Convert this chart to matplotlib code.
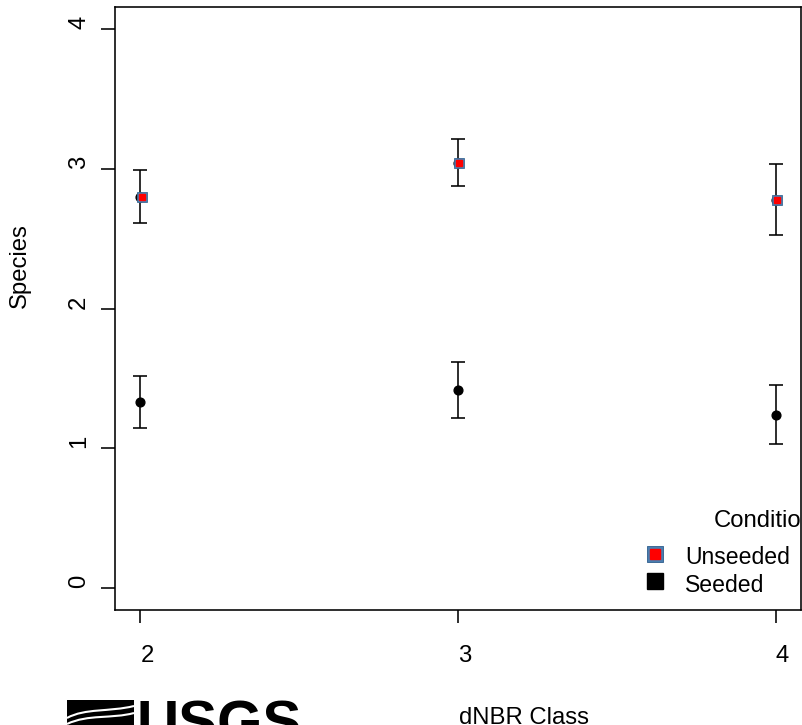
import matplotlib
matplotlib.use("Agg")
import matplotlib.pyplot as plt
from matplotlib.lines import Line2D
from matplotlib.patches import Polygon
from matplotlib.path import Path
from matplotlib.patches import PathPatch
import matplotlib.transforms as mtrans

plt.rcParams['font.family'] = ['Liberation Sans', 'DejaVu Sans']

# ---- data ----
dnbr_class = [2, 3, 4]
unseeded_mean = [2.80, 3.04, 2.776]
unseeded_lo = [2.61, 2.877, 2.523]
unseeded_hi = [2.99, 3.211, 3.035]
seeded_mean = [1.331, 1.417, 1.235]
seeded_lo = [1.142, 1.219, 1.027]
seeded_hi = [1.515, 1.620, 1.453]
x_ticks = [2, 3, 4]
y_ticks = [0, 1, 2, 3, 4]
legend_labels = ["Unseeded", "Seeded"]
legend_title = "Condition"

W, H = 802, 725
DPI = 100
fig = plt.figure(figsize=(W / DPI, H / DPI), dpi=DPI)

def fx(px):
    return px / W

def fy(py):
    return 1 - py / H

ax_left, ax_right, ax_top, ax_bottom = 115, 801, 7, 610
ax = fig.add_axes([fx(ax_left), fy(ax_bottom), (ax_right - ax_left) / W, (ax_bottom - ax_top) / H])
ax.set_xlim(1.92, 4.08)
ax.set_ylim(-0.16, 4.16)

FS = 17.2
FS_LEG = 16.6
lw = 1.15

for s in ax.spines.values():
    s.set_linewidth(lw)
    s.set_color('black')

ax.set_xticks(x_ticks)
ax.set_xticklabels([str(v) for v in x_ticks], fontsize=FS, ha='left')
ax.set_yticks(y_ticks)
ax.set_yticklabels([str(v) for v in y_ticks], fontsize=FS, rotation=90, va='bottom', ha='right')
ax.tick_params(axis='x', direction='out', length=9.5, width=lw, pad=15.5)
ax.tick_params(axis='y', direction='out', length=10, width=lw, pad=8)

# error bars
def yerr(mean, lo, hi):
    return [[m - l for m, l in zip(mean, lo)], [h - m for m, h in zip(mean, hi)]]

ax.errorbar(dnbr_class, unseeded_mean, yerr=yerr(unseeded_mean, unseeded_lo, unseeded_hi),
            fmt='none', ecolor='black', elinewidth=lw, capsize=5, capthick=lw, zorder=2)
ax.errorbar(dnbr_class, seeded_mean, yerr=yerr(seeded_mean, seeded_lo, seeded_hi),
            fmt='none', ecolor='black', elinewidth=lw, capsize=5, capthick=lw, zorder=2)

# seeded points
ax.plot(dnbr_class, seeded_mean, 'o', color='black', markersize=6.3, zorder=3)

# unseeded points: dark circle underneath, squares slightly offset
ax.plot(dnbr_class, unseeded_mean, 'o', color='black', markersize=6.3, zorder=3)
off = ax.transData + mtrans.ScaledTranslation(1.5 / DPI, 0, fig.dpi_scale_trans)
ax.plot(dnbr_class, unseeded_mean, 's', markerfacecolor='#4a7eb0', markeredgecolor='#3d6a96',
        markeredgewidth=0.6, markersize=7.9, linestyle='none', transform=off, zorder=4)
ax.plot(dnbr_class, unseeded_mean, 's', color='#ff0000', markersize=4.0, linestyle='none',
        transform=off, zorder=5)

# axis titles (left-adjusted like the reference)
fig.text(fx(459), fy(723.5), "dNBR Class", fontsize=FS, ha='left', va='baseline')
fig.text(fx(20), fy(308.5), "Species", fontsize=FS, rotation=90, ha='center', va='bottom')

# legend
fig.text(fx(714), fy(527), legend_title, fontsize=FS, ha='left', va='baseline')
fig.add_artist(Line2D([fx(655)], [fy(554)], transform=fig.transFigure, marker='s',
                      markersize=11.9, markerfacecolor='#4a7eb0', markeredgecolor='#3d6a96',
                      markeredgewidth=0.7, linestyle='none'))
fig.add_artist(Line2D([fx(655)], [fy(554)], transform=fig.transFigure, marker='s',
                      markersize=7.6, color='#ff0000', linestyle='none'))
fig.add_artist(Line2D([fx(655)], [fy(581)], transform=fig.transFigure, marker='s',
                      markersize=11.9, color='black', linestyle='none'))
fig.text(fx(685), fy(564), legend_labels[0], fontsize=FS_LEG, ha='left', va='baseline')
fig.text(fx(685), fy(591.5), legend_labels[1], fontsize=FS_LEG, ha='left', va='baseline')

# USGS logo (partially visible at bottom)
logo = Polygon([(fx(67), fy(700)), (fx(134), fy(700)), (fx(134), fy(726)), (fx(67), fy(726))],
               closed=True, transform=fig.transFigure, facecolor='black', edgecolor='none')
fig.add_artist(logo)
verts = [(fx(67), fy(718)), (fx(85), fy(708)), (fx(110), fy(712)), (fx(134), fy(706))]
wave = PathPatch(Path(verts, [Path.MOVETO, Path.CURVE4, Path.CURVE4, Path.CURVE4]),
                 transform=fig.transFigure, facecolor='none', edgecolor='white', linewidth=1.5)
fig.add_artist(wave)
verts2 = [(fx(67), fy(724)), (fx(88), fy(714)), (fx(112), fy(719)), (fx(134), fy(713))]
wave2 = PathPatch(Path(verts2, [Path.MOVETO, Path.CURVE4, Path.CURVE4, Path.CURVE4]),
                  transform=fig.transFigure, facecolor='none', edgecolor='white', linewidth=1.5)
fig.add_artist(wave2)
fig.text(fx(136), fy(741.5), "USGS", fontsize=42, fontweight='bold', ha='left', va='baseline')

fig.savefig("out.png", dpi=DPI, facecolor='white')
